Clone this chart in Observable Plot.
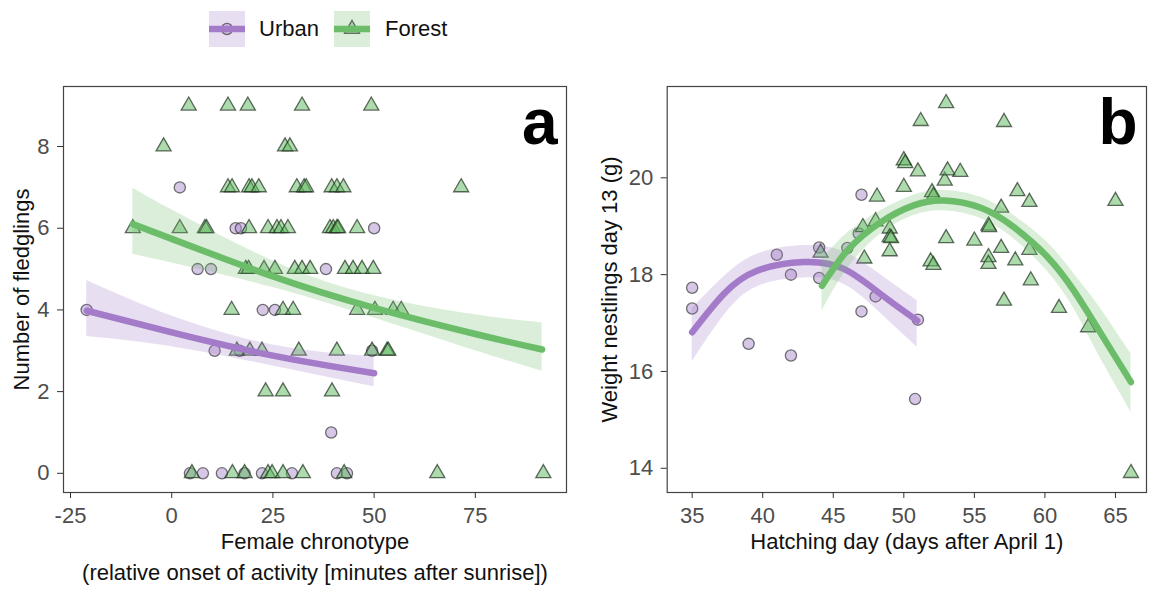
<!DOCTYPE html>
<html><head><meta charset="utf-8">
<script src="https://cdn.jsdelivr.net/npm/d3@7"></script>
<script src="https://cdn.jsdelivr.net/npm/@observablehq/plot@0.6"></script>
<style>
body{margin:0;background:#fff;font-family:"Liberation Sans",Arial,sans-serif;}
#root{position:relative;width:1149px;height:594px;overflow:hidden;background:#fff;}
.abs{position:absolute;}
.lt{position:absolute;font-size:22px;color:#111;line-height:36px;top:11px;}
</style></head><body><div id="root"></div>
<script>
// ---------- Panel a: female chronotype vs number of fledglings ----------
const urbanChronotype = [-21, 2, 15.8, 17.1, 50, 6.4, 9.7, 38.1, 22.5, 25.5, 10.6, 16.8, 49.5, 39.4, 4.5, 7.7, 12.4, 18, 22.3, 29.7, 40.8, 43.3];
const urbanFledglings = [4, 7, 6, 6, 6, 5, 5, 5, 4, 4, 3, 3, 3, 1, 0, 0, 0, 0, 0, 0, 0, 0];

const forestChronotype = [
  4.2, 13.9, 18.8, 32.2, 49.3,
  -2, 28, 29.2,
  13.9, 14.9, 19.1, 19.8, 21.5, 30.9, 32.7, 33.2, 39.5, 40.8, 42.4, 71.5,
  -9.6, 2, 8.2, 8.6, 19.1, 23.8, 26, 27, 28.7, 39.1, 39.9, 40.8, 41.1, 45.8,
  18.3, 19, 22.8, 25.5, 30.4, 32.2, 34.2, 42.8, 44.8, 47, 49.8,
  14.8, 27.5, 30, 45.8, 50.2, 54.7, 56.7,
  16.1, 19.3, 22.3, 31.4, 40.8, 49.5, 53.2, 53.5,
  23.2, 27.5, 39.6,
  5, 15, 18, 23.8, 24.8, 27.5, 32.4, 42.6, 65.6, 91.8
];
const forestFledglings = [
  9, 9, 9, 9, 9,
  8, 8, 8,
  7, 7, 7, 7, 7, 7, 7, 7, 7, 7, 7, 7,
  6, 6, 6, 6, 6, 6, 6, 6, 6, 6, 6, 6, 6, 6,
  5, 5, 5, 5, 5, 5, 5, 5, 5, 5, 5,
  4, 4, 4, 4, 4, 4, 4,
  3, 3, 3, 3, 3, 3, 3, 3,
  2, 2, 2,
  0, 0, 0, 0, 0, 0, 0, 0, 0, 0
];

// fitted curves
const urbanFitAX  = [-21, 0, 25, 50];
const urbanFitAY  = [3.98, 3.45, 2.88, 2.45];
const urbanFitALo = [3.35, 3.1, 2.63, 2.12];
const urbanFitAHi = [4.72, 3.85, 3.14, 2.85];
const forestFitAX  = [-9.6, 0, 25, 50, 75, 91.5];
const forestFitAY  = [6.1, 5.74, 4.82, 4.05, 3.41, 3.03];
const forestFitALo = [5.36, 5.15, 4.55, 3.8, 3.0, 2.5];
const forestFitAHi = [6.98, 6.45, 5.2, 4.35, 3.88, 3.68];

const ticksAX = [-25, 0, 25, 50, 75];
const ticksAY = [0, 2, 4, 6, 8];

// ---------- Panel b: hatching day vs nestling weight ----------
const urbanHatch  = [35, 35, 39, 41, 42, 42, 44, 44, 46, 46.8, 47, 47, 48, 51, 50.8];
const urbanWeight = [17.73, 17.3, 16.57, 18.41, 18.0, 16.33, 18.56, 17.93, 18.55, 18.85, 19.65, 17.24, 17.55, 17.07, 15.43];

const forestHatch = [44.1, 47.1, 47.2, 48, 48.1, 49, 49, 49.1, 49, 50, 50.1, 50, 51, 51.2, 51.9, 52.1, 52, 52.1, 52.9, 53, 53.1, 53, 54, 55, 56, 56.05, 56, 56, 56.9, 56.9, 57.1, 57.1, 57.9, 58.05, 58.9, 58.9, 59, 61, 63.06, 65, 66.1];
const forestWeight = [18.45, 18.98, 18.33, 19.1, 19.61, 18.95, 18.77, 18.75, 18.48, 20.36, 20.3, 19.81, 20.13, 21.17, 18.27, 18.2, 19.7, 19.62, 19.94, 21.54, 20.15, 18.75, 20.12, 18.7, 19.01, 18.98, 18.36, 18.22, 19.38, 18.55, 21.15, 17.46, 18.29, 19.72, 19.5, 18.51, 17.88, 17.31, 16.91, 19.52, 13.9];

const urbanFitBX  = [35, 37.24, 39.6, 42.9, 45.75, 48.35, 50.95];
const urbanFitBY  = [16.81, 17.6, 18.08, 18.26, 18.12, 17.6, 17.05];
const urbanFitBLo = [16.2, 17.15, 17.75, 17.93, 17.8, 17.2, 16.5];
const urbanFitBHi = [17.3, 17.95, 18.42, 18.6, 18.47, 18.0, 17.46];
const forestFitBX  = [44.2, 46, 48.35, 50.7, 52.85, 55.45, 57.8, 60.2, 62.05, 63.7, 66.1];
const forestFitBY  = [17.77, 18.5, 19.08, 19.43, 19.53, 19.38, 18.98, 18.36, 17.67, 16.91, 15.78];
const forestFitBLo = [17.25, 18.12, 18.84, 19.22, 19.32, 19.16, 18.74, 18.06, 17.3, 16.4, 15.16];
const forestFitBHi = [18.3, 18.86, 19.32, 19.64, 19.74, 19.6, 19.22, 18.66, 18.02, 17.4, 16.36];

const ticksBX = [35, 40, 45, 50, 55, 60, 65];
const ticksBY = [14, 16, 18, 20];

const groups = ["Urban", "Forest"];

// ---------- styles ----------
const FONT = '"Liberation Sans", Arial, Helvetica, sans-serif';
const LINE = {Urban: "#a47bc9", Forest: "#6cbd69"};
const PT_FILL = {Urban: "#b08fd0", Forest: "#5cb85c"};

const zip = (xs, ys) => xs.map((x, i) => ({x, y: ys[i]}));
const fit = (xs, ys, lo, hi) => xs.map((x, i) => ({x, y: ys[i], lo: lo[i], hi: hi[i]}));

function panel(o) {
  return Plot.plot({
    width: o.width, height: 534,
    marginLeft: o.marginLeft, marginRight: o.marginRight, marginTop: 26, marginBottom: 102,
    style: {fontFamily: FONT, fontSize: "22px", background: "#fff", overflow: "visible"},
    x: {domain: o.xDomain, label: null},
    y: {domain: o.yDomain, label: null},
    marks: [
      Plot.dot(o.urban, {x: "x", y: "y", r: 5.6, symbol: "circle", fill: PT_FILL.Urban, fillOpacity: 0.5, stroke: "#2b2b2b", strokeOpacity: 0.65, strokeWidth: 1.3}),
      Plot.dot(o.forest, {x: "x", y: "y", r: 5.6, symbol: "triangle", fill: PT_FILL.Forest, fillOpacity: 0.5, stroke: "#1f2f1f", strokeOpacity: 0.7, strokeWidth: 1.3}),
      Plot.areaY(o.urbanFit, {x: "x", y1: "lo", y2: "hi", curve: "natural", fill: LINE.Urban, fillOpacity: 0.25}),
      Plot.line(o.urbanFit, {x: "x", y: "y", curve: "natural", stroke: LINE.Urban, strokeWidth: 6.5}),
      Plot.areaY(o.forestFit, {x: "x", y1: "lo", y2: "hi", curve: "natural", fill: LINE.Forest, fillOpacity: 0.25}),
      Plot.line(o.forestFit, {x: "x", y: "y", curve: "natural", stroke: LINE.Forest, strokeWidth: 6.5}),
      Plot.frame({stroke: "#444", strokeWidth: 1.2}),
      Plot.axisX(o.xTicks, {tickSize: 6, tickPadding: 9, fontSize: 22, stroke: "#333", fill: "#4d4d4d", label: null, tickFormat: d => String(d)}),
      Plot.axisY(o.yTicks, {tickSize: 6, tickPadding: 8, fontSize: 22, stroke: "#333", fill: "#4d4d4d", label: null, tickFormat: d => String(d)}),
      Plot.text([o.xLabel], {frameAnchor: "bottom", textAnchor: "middle", lineAnchor: "middle", dy: 49, fontSize: 22, fill: "#111"}),
      Plot.text([o.yLabel], {frameAnchor: "left", rotate: -90, textAnchor: "middle", lineAnchor: "middle", dx: o.yLabelDx, fontSize: 22, fill: "#111"}),
      Plot.text([o.letter], {frameAnchor: "top-right", textAnchor: "end", lineAnchor: "top", dx: -9, dy: 12, fontSize: 64, fontWeight: "bold", fill: "#000"}),
      ...(o.caption ? [Plot.text([o.caption], {frameAnchor: "bottom", textAnchor: "middle", lineAnchor: "middle", dy: 80, fontSize: 22, fill: "#111"})] : [])
    ]
  });
}

const root = document.getElementById("root");

const pa = panel({
  width: 590, marginLeft: 63, marginRight: 24,
  xDomain: [-26.73, 97.52], yDomain: [-0.47, 9.47],
  xTicks: ticksAX, yTicks: ticksAY,
  urban: zip(urbanChronotype, urbanFledglings),
  forest: zip(forestChronotype, forestFledglings),
  urbanFit: fit(urbanFitAX, urbanFitAY, urbanFitALo, urbanFitAHi),
  forestFit: fit(forestFitAX, forestFitAY, forestFitALo, forestFitAHi),
  xLabel: "Female chronotype", yLabel: "Number of fledglings", yLabelDx: -42, letter: "a",
  caption: "(relative onset of activity [minutes after sunrise])"
});
pa.classList.add("abs"); pa.style.left = "0px"; pa.style.top = "60px";
root.appendChild(pa);

const pb = panel({
  width: 559, marginLeft: 76.7, marginRight: 3,
  xDomain: [33.23, 67.2], yDomain: [13.5, 21.886],
  xTicks: ticksBX, yTicks: ticksBY,
  urban: zip(urbanHatch, urbanWeight),
  forest: zip(forestHatch, forestWeight),
  urbanFit: fit(urbanFitBX, urbanFitBY, urbanFitBLo, urbanFitBHi),
  forestFit: fit(forestFitBX, forestFitBY, forestFitBLo, forestFitBHi),
  xLabel: "Hatching day (days after April 1)", yLabel: "Weight nestlings day 13 (g)", yLabelDx: -57, letter: "b"
});
pb.classList.add("abs"); pb.style.left = "590px"; pb.style.top = "60px";
root.appendChild(pb);

// ---------- legend (above the plots) ----------
const keyLeft = {Urban: 209, Forest: 334};
const textLeft = {Urban: 259, Forest: 385};
groups.forEach(g => {
  const svg = d3.create("svg").attr("width", 36).attr("height", 36)
    .attr("class", "abs").style("left", keyLeft[g] + "px").style("top", "11px");
  svg.append("rect").attr("width", 36).attr("height", 36).attr("fill", LINE[g]).attr("fill-opacity", 0.25);
  const sym = d3.symbol(g === "Urban" ? d3.symbolCircle : d3.symbolTriangle, Math.PI * 5.6 * 5.6);
  svg.append("path").attr("d", sym()).attr("transform", "translate(18,18)")
    .attr("fill", PT_FILL[g]).attr("fill-opacity", 0.5)
    .attr("stroke", "#2b2b2b").attr("stroke-opacity", 0.65).attr("stroke-width", 1.3);
  svg.append("line").attr("x1", 0).attr("x2", 36).attr("y1", 18).attr("y2", 18)
    .attr("stroke", LINE[g]).attr("stroke-width", 6.5);
  root.appendChild(svg.node());
  const t = document.createElement("div");
  t.className = "lt"; t.textContent = g; t.style.left = textLeft[g] + "px";
  root.appendChild(t);
});
</script></body></html>
